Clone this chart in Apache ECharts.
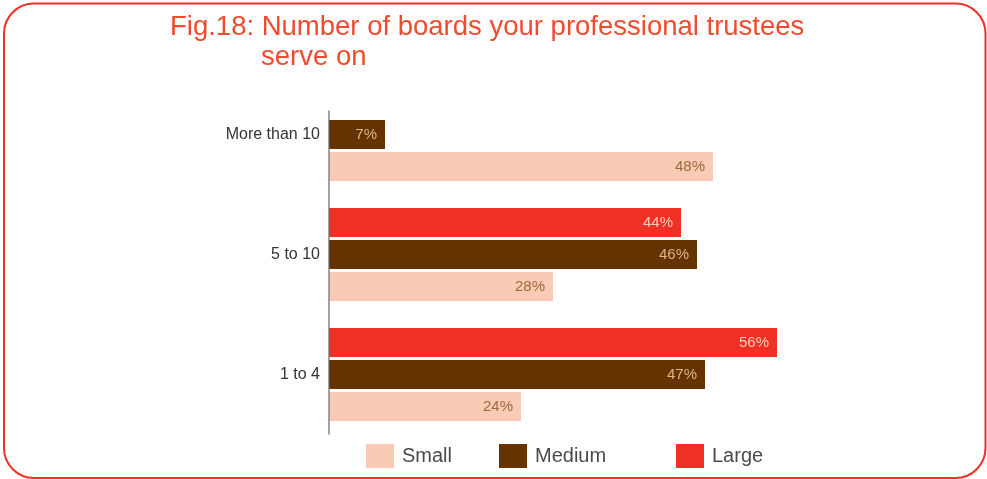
<!DOCTYPE html>
<html>
<head>
<meta charset="utf-8">
<script src="https://cdn.jsdelivr.net/npm/echarts@6/dist/echarts.min.js"></script>
<style>
html,body{margin:0;padding:0;background:#fff;}
#chart{width:987px;height:479px;}
</style>
</head>
<body>
<div id="chart"></div>
<script>
const categories = ['1 to 4', '5 to 10', 'More than 10'];
const seriesNames = ['Small', 'Medium', 'Large'];
const smallValues = [24, 28, 48];
const mediumValues = [47, 46, 7];
const largeValues = [56, 44, null];
const titleLine1 = 'Fig.18: Number of boards your professional trustees';
const titleLine2 = 'serve on';

const colors = { Small: '#F9CAB4', Medium: '#663300', Large: '#EE3124' };
const labelColors = { Small: '#9C6B3C', Medium: '#D9B58E', Large: '#FBCDBF' };
const font = "'Liberation Sans', Arial, Helvetica, sans-serif";

const chart = echarts.init(document.getElementById('chart'), null, { renderer: 'canvas' });

function makeSeries(name, values) {
  return {
    name: name,
    type: 'bar',
    data: values,
    barWidth: 29,
    barGap: '10%',
    itemStyle: { color: colors[name] },
    label: {
      show: true,
      position: 'insideRight',
      distance: 8,
      formatter: '{c}%',
      color: labelColors[name],
      fontFamily: font,
      fontSize: 15
    },
    emphasis: { disabled: true },
    animation: false
  };
}

function legendAt(name, left) {
  return {
    data: [name],
    left: left,
    top: 439,
    icon: 'rect',
    itemWidth: 28,
    itemHeight: 24,
    itemGap: 0,
    textStyle: { fontFamily: font, fontSize: 20, color: '#4a4a4a', padding: [0, 0, 0, 3] },
    selectedMode: false
  };
}

const option = {
  backgroundColor: '#fff',
  animation: false,
  title: [
    { text: titleLine1, left: 165, top: 8, textStyle: { fontFamily: font, fontSize: 27.5, fontWeight: 'normal', color: '#EF4B2E' } },
    { text: titleLine2, left: 256, top: 38, textStyle: { fontFamily: font, fontSize: 27.5, fontWeight: 'normal', color: '#EF4B2E' } }
  ],
  legend: [legendAt('Small', 361), legendAt('Medium', 494), legendAt('Large', 671)],
  grid: { left: 329, top: 74.5, width: 480, height: 360 },
  xAxis: {
    type: 'value', min: 0, max: 60,
    axisLine: { show: false }, axisTick: { show: false }, axisLabel: { show: false }, splitLine: { show: false }
  },
  yAxis: {
    type: 'category',
    data: categories,
    axisLine: { show: false },
    axisTick: { show: false },
    axisLabel: { fontFamily: font, fontSize: 16, color: '#333', margin: 9 }
  },
  // series listed top-to-bottom within each group (Large on top, Small at bottom)
  series: [
    makeSeries('Large', largeValues),
    makeSeries('Medium', mediumValues),
    makeSeries('Small', smallValues)
  ]
};
chart.setOption(option);

// axis line drawn from the library's own scale
const x0 = chart.convertToPixel({ xAxisIndex: 0 }, 0);
const yTopCenter = chart.convertToPixel({ yAxisIndex: 0 }, categories[categories.length - 1]);
const yBottomCenter = chart.convertToPixel({ yAxisIndex: 0 }, categories[0]);
const band = (yBottomCenter - yTopCenter) / (categories.length - 1);
chart.setOption({
  graphic: [
    { type: 'rect', shape: { x: 4, y: 3.5, width: 981.5, height: 474.5, r: 30 },
      style: { fill: null, stroke: '#EE3124', lineWidth: 2 }, silent: true },
    { type: 'line', shape: { x1: x0, y1: yTopCenter - band * 0.2, x2: x0, y2: yBottomCenter + band / 2 },
      style: { stroke: '#666', lineWidth: 1.2 }, silent: true, z: 10 }
  ]
});
</script>
</body>
</html>
